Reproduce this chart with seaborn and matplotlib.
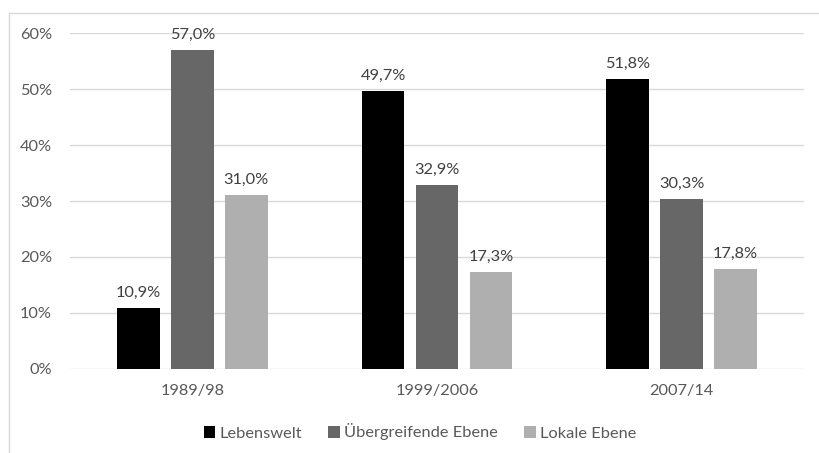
import matplotlib
matplotlib.use("Agg")
import matplotlib.pyplot as plt
import seaborn as sns
import pandas as pd
from matplotlib.lines import Line2D
from matplotlib.ticker import FuncFormatter

categories = ["1989/98", "1999/2006", "2007/14"]
series_names = ["Lebenswelt", "Übergreifende Ebene", "Lokale Ebene"]
lebenswelt = [10.9, 49.7, 51.8]
uebergreifend = [57.0, 32.9, 30.3]
lokal = [31.0, 17.3, 17.8]
y_ticks = [0, 10, 20, 30, 40, 50, 60]
colors = ["#000000", "#676767", "#afafaf"]

rows = []
for name, vals in zip(series_names, [lebenswelt, uebergreifend, lokal]):
    for c, v in zip(categories, vals):
        rows.append({"Zeitraum": c, "Serie": name, "Wert": v})
df = pd.DataFrame(rows)

sns.set_theme(style="white")
plt.rcParams["font.family"] = ["Lato", "DejaVu Sans"]
text_color = "#595959"
fs = 11.8

W, H = 819, 453
fig = plt.figure(figsize=(W / 100, H / 100), dpi=100)
ax = fig.add_axes([70 / W, 1 - 368.7 / H, (804 - 70) / W, (368.7 - 33.3) / H])

sns.barplot(data=df, x="Zeitraum", y="Wert", hue="Serie", order=categories,
            hue_order=series_names, palette=colors, width=0.662, gap=0.21,
            linewidth=0, saturation=1, ax=ax, legend=True, zorder=3)

ax.set_xlim(-0.5, 2.5)
ax.set_ylim(0, 60)
ax.set_yticks(y_ticks)
ax.yaxis.set_major_formatter(FuncFormatter(lambda v, p: f"{int(v)}%"))
ax.grid(axis="y", color="#d9d9d9", linewidth=1.0, zorder=0)
ax.set_axisbelow(True)
for s in ax.spines.values():
    s.set_visible(False)
ax.set_xlabel("")
ax.set_ylabel("")
ax.tick_params(axis="y", length=0, pad=13, labelsize=fs, labelcolor=text_color)
ax.tick_params(axis="x", length=0, pad=11, labelsize=fs, labelcolor=text_color)

for cont in ax.containers:
    ax.bar_label(cont, labels=[f"{v:.1f}%".replace(".", ",") for v in cont.datavalues],
                 padding=6, fontsize=fs, color="#404040")

handles, labels = ax.get_legend_handles_labels()
ax.legend_.remove()
fig.legend(handles, labels, loc="center", bbox_to_anchor=(420 / W, 1 - 432 / H),
           ncol=3, frameon=False, fontsize=fs, labelcolor=text_color,
           handlelength=0.7, handleheight=0.7, handletextpad=0.25,
           columnspacing=1.6)

# chart-area frame (partially visible)
fig.add_artist(Line2D([9 / W, 1.0], [1 - 13 / H, 1 - 13 / H], transform=fig.transFigure,
                      color="#d9d9d9", linewidth=1.0))
fig.add_artist(Line2D([9 / W, 9 / W], [0, 1 - 13 / H], transform=fig.transFigure,
                      color="#d9d9d9", linewidth=1.0))

fig.savefig("out.png", dpi=100, facecolor="white")
